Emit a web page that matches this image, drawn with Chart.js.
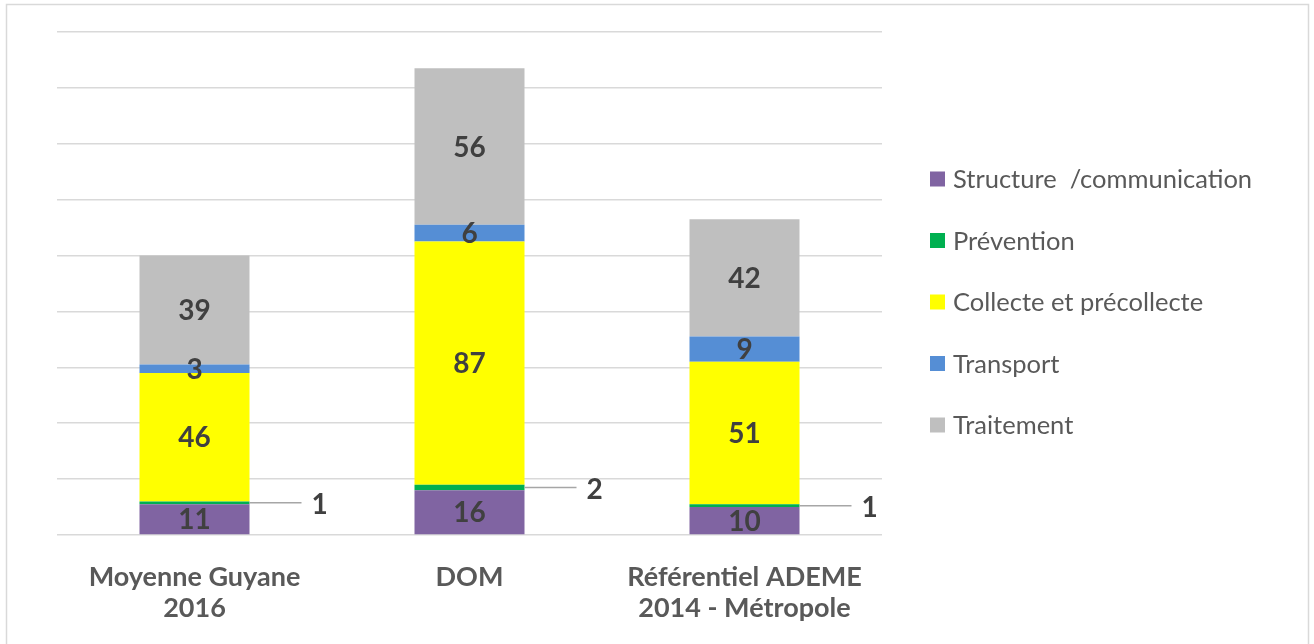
<!DOCTYPE html>
<html><head><meta charset="utf-8">
<script src="https://cdn.jsdelivr.net/npm/chart.js@4.4.1/dist/chart.umd.min.js"></script>
<style>html,body{margin:0;padding:0;background:#fff}#wrap{position:relative;width:1314px;height:644px}</style>
</head><body><div id="wrap"><canvas id="c" width="1314" height="644"></canvas></div>
<script>
const categories = [['Moyenne Guyane','2016'], 'DOM', ['Référentiel ADEME','2014 - Métropole']];
const seriesNames = ['Structure  /communication','Prévention','Collecte et précollecte','Transport','Traitement'];
const structure = [11, 16, 10];
const prevention = [1, 2, 1];
const collecte = [46, 87, 51];
const transport = [3, 6, 9];
const traitement = [39, 56, 42];
const colors = ['#8064a2', '#00b050', '#ffff00', '#558ed5', '#bfbfbf'];
const yMin = 0, yMax = 180, yStep = 20;

const FONT = 'Lato';
const seriesData = [structure, prevention, collecte, transport, traitement];

const framePlugin = {
  id: 'frame',
  beforeDraw(chart) {
    const ctx = chart.ctx;
    ctx.save();
    ctx.fillStyle = '#fff';
    ctx.fillRect(0, 0, chart.width, chart.height);
    ctx.strokeStyle = '#d9d9d9';
    ctx.lineWidth = 1.5;
    ctx.strokeRect(6.5, 4.5, 1302, 700);
    ctx.restore();
  }
};

const labelPlugin = {
  id: 'lbl',
  afterDatasetsDraw(chart) {
    const ctx = chart.ctx;
    ctx.save();
    ctx.font = 'bold 28px ' + FONT;
    ctx.fillStyle = '#404040';
    ctx.textBaseline = 'middle';
    chart.data.datasets.forEach((ds, i) => {
      const meta = chart.getDatasetMeta(i);
      meta.data.forEach((bar, j) => {
        const v = ds.data[j];
        const cy = (bar.y + bar.base) / 2;
        if (i === 1) {
          const x0 = bar.x + bar.width / 2;
          ctx.strokeStyle = '#a6a6a6';
          ctx.lineWidth = 1.5;
          ctx.beginPath();
          ctx.moveTo(x0, cy);
          ctx.lineTo(x0 + 52, cy);
          ctx.stroke();
          ctx.textAlign = 'left';
          ctx.fillText(String(v), x0 + 62, cy + 2);
        } else {
          ctx.textAlign = 'center';
          ctx.fillText(String(v), bar.x, cy + 1);
        }
      });
    });
    ctx.restore();
  }
};

const legendPlugin = {
  id: 'customLegend',
  afterDraw(chart) {
    const ctx = chart.ctx;
    ctx.save();
    ctx.font = '25.5px ' + FONT;
    ctx.textBaseline = 'middle';
    ctx.textAlign = 'left';
    chart.data.datasets.forEach((ds, i) => {
      const y = 179 + i * 61.5;
      ctx.fillStyle = ds.backgroundColor;
      ctx.fillRect(930, y - 7.5, 15, 15);
      ctx.fillStyle = '#595959';
      ctx.fillText(ds.label, 953, y + 1);
    });
    ctx.restore();
  }
};

new Chart(document.getElementById('c'), {
  type: 'bar',
  data: {
    labels: categories,
    datasets: seriesNames.map((n, i) => ({
      label: n,
      data: seriesData[i],
      backgroundColor: colors[i],
      borderWidth: 0,
      categoryPercentage: 1,
      barPercentage: 0.4
    }))
  },
  options: {
    responsive: false,
    animation: false,
    devicePixelRatio: 1,
    layout: { padding: { left: 57, right: 432, top: 32, bottom: 0 } },
    plugins: { legend: { display: false }, tooltip: { enabled: false } },
    scales: {
      x: {
        stacked: true,
        grid: { display: false, drawTicks: false },
        border: { display: false },
        ticks: {
          color: '#595959',
          padding: 27,
          font: { family: FONT, size: 27, weight: 'bold', lineHeight: 1.15 },
          maxRotation: 0
        },
        afterFit(s) { s.height = 109; }
      },
      y: {
        stacked: true,
        min: yMin, max: yMax,
        ticks: { display: false, stepSize: yStep },
        grid: { color: '#d9d9d9', lineWidth: 1.5, drawTicks: false },
        border: { display: false },
        afterFit(s) { s.width = 0; }
      }
    }
  },
  plugins: [framePlugin, labelPlugin, legendPlugin]
});
</script></body></html>
